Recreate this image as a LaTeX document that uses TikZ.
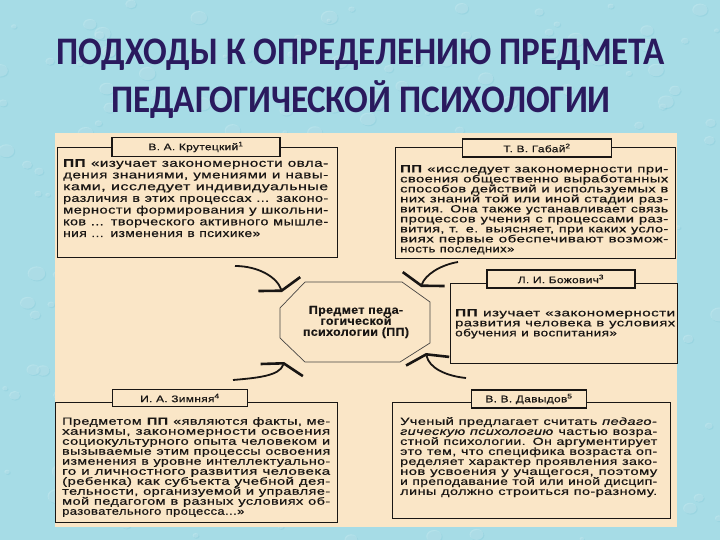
\documentclass[tikz,border=0pt]{standalone}
\usepackage{fontspec}
\usepackage{graphicx}
\usetikzlibrary{arrows.meta}
\newfontfamily\titlefont{Carlito}
\newfontfamily\boxfont[LetterSpace=3,FakeBold=0.6]{Liberation Sans}
\definecolor{bgc}{RGB}{166,220,230}
\definecolor{bgd}{RGB}{120,196,212}
\definecolor{panel}{RGB}{250,230,199}
\definecolor{ttl}{RGB}{42,26,94}
\definecolor{ink}{RGB}{25,22,20}
\newcommand\jl[1]{\resizebox{\hsize}{\height}{#1}\\}
\newcommand\lastl[2][1.3]{\scalebox{#1}[1]{#2}}
\tikzset{
  mbox/.style={draw=ink, line width=1.2pt, fill=panel, inner sep=0, anchor=north west},
  hbox/.style={draw=ink, line width=1.2pt, fill=panel, inner sep=0, text=ink,
    font=\boxfont\fontsize{9.5}{10}\selectfont},
  btext/.style={anchor=north west, inner sep=0, text width=#1, align=left, text=ink},
  conn/.style={draw=ink, line width=1.8pt,
    -{Straight Barb[length=7pt,width=44pt,line width=2.6pt]}},
  oct/.style={draw=ink!80, line width=0.7pt, fill=panel},
  drop/.style={fill=white, opacity=0.18},
}
\begin{document}
\begin{tikzpicture}[x=1pt,y=-1pt]
\useasboundingbox (0,0) rectangle (720,540);
\fill[bgc] (0,0) rectangle (720,540);
% background droplets
\pgfmathsetseed{7}
\foreach \i in {1,...,260}{
  \pgfmathsetmacro{\xx}{rnd*720}
  \pgfmathsetmacro{\yy}{rnd*540}
  \pgfmathsetmacro{\rr}{2+rnd*7}
  \fill[bgd, opacity=0.25] (\xx+1,\yy+1) ellipse [x radius=\rr, y radius=0.8*\rr];
  \fill[drop] (\xx,\yy) ellipse [x radius=\rr, y radius=0.8*\rr];
}
% title
\node[anchor=base, text=ttl, font=\titlefont\bfseries\fontsize{39}{44}\selectfont] (title1) at (361,65) {\scalebox{0.9}[1]{ПОДХОДЫ К ОПРЕДЕЛЕНИЮ ПРЕДМЕТА}};
\node[anchor=base, text=ttl, font=\titlefont\bfseries\fontsize{39}{44}\selectfont] (title2) at (361,113) {\scalebox{0.9}[1]{ПЕДАГОГИЧЕСКОЙ ПСИХОЛОГИИ}};
% panel
\fill[panel] (55,133) rectangle (677,527);

% box 1
\node[mbox, minimum width=280pt, minimum height=110pt] (b1) at (57,147) {};
\node[hbox, minimum width=168pt, minimum height=19pt] (b1h) at (196,147) {\lastl[1.25]{В. А. Крутецкий\textsuperscript{1}}};
\node[btext=265pt, font=\boxfont\fontsize{11}{11.7}\selectfont] (b1t) at (63,159) {%
\jl{\textbf{ПП} «изучает закономерности овла-}
\jl{дения знаниями, умениями и навы-}
\jl{ками, исследует индивидуальные}
\jl{различия в этих процессах ... законо-}
\jl{мерности формирования у школьни-}
\jl{ков ... творческого активного мышле-}
\lastl[1.25]{ния ... изменения в психике»}};

% box 2
\node[mbox, minimum width=280pt, minimum height=111pt] (b2) at (395,147) {};
\node[hbox, minimum width=149pt, minimum height=18pt] (b2h) at (537,148) {\lastl[1.25]{Т. В. Габай\textsuperscript{2}}};
\node[btext=268pt, font=\boxfont\fontsize{10.4}{10}\selectfont] (b2t) at (400,165) {%
\jl{\textbf{ПП} «исследует закономерности при-}
\jl{своения общественно выработанных}
\jl{способов действий и используемых в}
\jl{них знаний той или иной стадии раз-}
\jl{вития. Она также устанавливает связь}
\jl{процессов учения с процессами раз-}
\jl{вития, т. е. выясняет, при каких усло-}
\jl{виях первые обеспечивают возмож-}
\lastl[1.25]{ность последних»}};

% box 3
\node[mbox, minimum width=227pt, minimum height=80pt] (b3) at (450,283) {};
\node[hbox, minimum width=148pt, minimum height=18pt] (b3h) at (561,279) {\lastl[1.25]{Л. И. Божович\textsuperscript{3}}};
\node[btext=220pt, font=\boxfont\fontsize{10.4}{10}\selectfont] (b3t) at (455,309) {%
\jl{\textbf{ПП} изучает «закономерности}
\jl{развития человека в условиях}
\lastl[1.3]{обучения и воспитания»}};

% box 4
\node[mbox, minimum width=282pt, minimum height=120pt] (b4) at (55,402) {};
\node[hbox, minimum width=135pt, minimum height=17pt] (b4h) at (180,398) {\lastl[1.25]{И. А. Зимняя\textsuperscript{4}}};
\node[btext=268pt, font=\boxfont\fontsize{10.4}{10}\selectfont] (b4t) at (62,417) {%
\jl{Предметом \textbf{ПП} «являются факты, ме-}
\jl{ханизмы, закономерности освоения}
\jl{социокультурного опыта человеком и}
\jl{вызываемые этим процессы освоения}
\jl{изменения в уровне интеллектуально-}
\jl{го и личностного развития человека}
\jl{(ребенка) как субъекта учебной дея-}
\jl{тельности, организуемой и управляе-}
\jl{мой педагогом в разных условиях об-}
\lastl[1.25]{разовательного процесса...»}};

% box 5
\node[mbox, minimum width=278pt, minimum height=116pt] (b5) at (392,402) {};
\node[hbox, minimum width=115pt, minimum height=18pt] (b5h) at (529,399) {\lastl[1.25]{В. В. Давыдов\textsuperscript{5}}};
\node[btext=257pt, font=\boxfont\fontsize{10.4}{10}\selectfont] (b5t) at (400,417) {%
\jl{Ученый предлагает считать \textit{педаго-}}
\jl{\textit{гическую психологию} частью возра-}
\jl{стной психологии. Он аргументирует}
\jl{это тем, что специфика возраста оп-}
\jl{ределяет характер проявления зако-}
\jl{нов усвоения у учащегося, поэтому}
\jl{и преподавание той или иной дисцип-}
\jl{лины должно строиться по-разному.}};

% centre octagon
\draw[oct] (305,282) -- (402,282) -- (430,302) -- (430,343) -- (400,362) -- (305,362) -- (280,338) -- (280,308) -- cycle;
\node[align=center, text=ink, inner sep=0, font=\boxfont\bfseries\fontsize{11.5}{11}\selectfont] (c) at (356,322) {\scalebox{1.08}[1]{Предмет педа-}\\\scalebox{1.08}[1]{гогической}\\\scalebox{1.08}[1]{психологии (ПП)}};

% connectors
\coordinate (a1s) at (235,266);
\coordinate (a1e) at (282,292);
\coordinate (a2s) at (458,262);
\coordinate (a2e) at (421,287);
\coordinate (a3s) at (466,378);
\coordinate (a3e) at (426,353);
\coordinate (a4s) at (233,380);
\coordinate (a4e) at (284,362);
\draw[conn] (a1s) .. controls (258,266) and (277,277) .. (a1e);
\draw[conn] (a2s) .. controls (440,265) and (425,275) .. (a2e);
\draw[conn] (a3s) .. controls (446,376) and (429,368) .. (a3e);
\draw[conn] (a4s) .. controls (256,378) and (280,376) .. (a4e);
\end{tikzpicture}
\end{document}
